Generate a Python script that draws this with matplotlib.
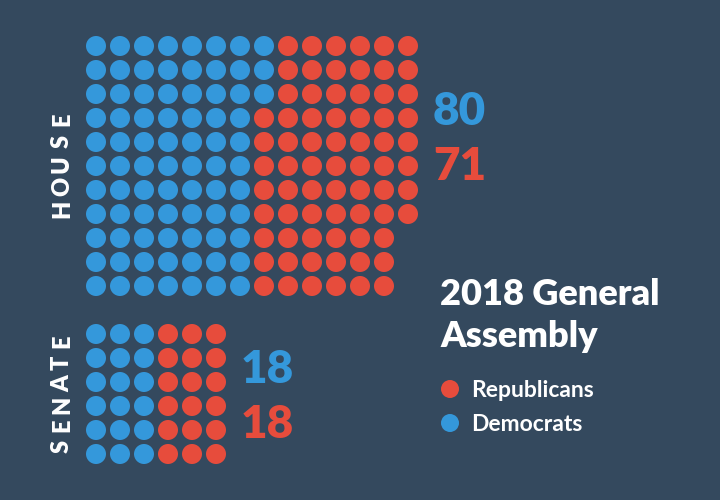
import matplotlib
matplotlib.use('Agg')
import matplotlib.pyplot as plt
import numpy as np

#### data: seats per row of the dot grid
house_dem = [8, 8, 8, 7, 7, 7, 7, 7, 7, 7, 7]
house_rep = [6, 6, 6, 7, 7, 7, 7, 7, 6, 6, 6]
senate_dem = [3, 3, 3, 3, 3, 3]
senate_rep = [3, 3, 3, 3, 3, 3]
title = ["2018 General", "Assembly"]
parties = ["Republicans", "Democrats"]

bg = '#34495e'
blue = '#3498db'
red = '#e74c3c'
white = '#ffffff'
plt.rcParams['font.family'] = ['Lato', 'DejaVu Sans']

fig = plt.figure(figsize=(7.2, 5), dpi=100)
fig.patch.set_facecolor(bg)
ax = fig.add_axes([0, 0, 1, 1])
ax.set_facecolor(bg)
ax.set_xlim(0, 720)
ax.set_ylim(500, 0)
ax.axis('off')

step = 24
rad = 10


def grid(dem, rep, x0, y0):
  for r, (d, p) in enumerate(zip(dem, rep)):
    y = y0 + r * step
    for c in range(d + p):
      col = blue if c < d else red
      ax.add_patch(plt.Circle((x0 + c * step, y), rad, color=col, lw=0))


grid(house_dem, house_rep, 96, 46)
grid(senate_dem, senate_rep, 96, 334)

# totals
num_kw = dict(fontsize=33, fontweight='heavy', va='baseline', ha='left')
ax.text(433, 125, str(sum(house_dem)), color=blue, **num_kw)
ax.text(433, 180, str(sum(house_rep)), color=red, **num_kw)
ax.text(241, 383, str(sum(senate_dem)), color=blue, **num_kw)
ax.text(241, 438, str(sum(senate_rep)), color=red, **num_kw)


# chamber labels, letter-spaced, reading bottom to top
def vlabel(word, yc, pitch):
  n = len(word)
  for k, ch in enumerate(word):
    y = yc + ((n - 1) / 2 - k) * pitch
    ax.text(62, y, ch, color=white, fontsize=17, fontweight='heavy',
            rotation=90, va='center', ha='center')


vlabel("HOUSE", 164, 22.5)
vlabel("SENATE", 394, 21)

# title + legend
for i, line in enumerate(title):
  ax.text(440, 305 + i * 42, line, color=white, fontsize=26, fontweight='heavy',
          va='baseline', ha='left')
for i, (name, col) in enumerate(zip(parties, [red, blue])):
  y = 389 + i * 34
  ax.add_patch(plt.Circle((450, y), 9, color=col, lw=0))
  ax.text(471, y + 8, name, color=white, fontsize=16.5, fontweight='bold',
          va='baseline', ha='left')

plt.savefig('out.png', dpi=100, facecolor=bg)
